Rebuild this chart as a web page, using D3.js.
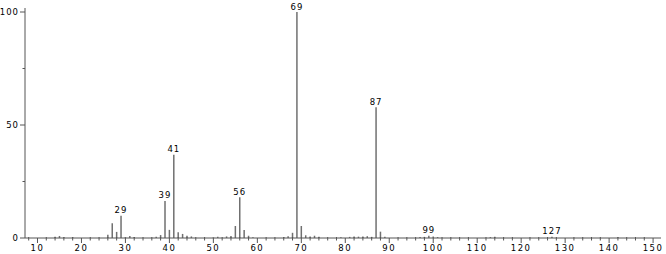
<!DOCTYPE html>
<html>
<head>
<meta charset="utf-8">
<script src="https://cdn.jsdelivr.net/npm/d3@7"></script>
<style>
  body { margin: 0; background: #fff; }
  text { font-family: "DejaVu Sans", sans-serif; font-size: 8.5px; fill: #000; }
</style>
</head>
<body>
<div id="chart"></div>
<script>
// m/z values and relative intensities
const mz = [14, 15, 16, 18, 26, 27, 28, 29, 30, 31, 32, 37, 38, 39, 40, 41, 42, 43, 44, 45,
            50, 51, 53, 54, 55, 56, 57, 58, 59, 66, 67, 68, 69, 70, 71, 72, 73, 74,
            79, 81, 82, 83, 84, 85, 86, 87, 88, 89, 97, 98, 99, 100, 101, 113, 114, 127, 142];
const intensity = [0.5, 0.9, 0.3, 0.3, 1.4, 6.5, 2.7, 9.8, 0.4, 0.9, 0.4, 0.6, 1.3, 16.4, 3.6, 36.8, 2.5, 1.8, 1.0, 0.7,
                   0.3, 0.5, 0.7, 0.9, 5.3, 18.0, 3.5, 1.0, 0.3, 0.4, 0.8, 2.3, 100, 5.3, 1.2, 0.7, 1.0, 0.6,
                   0.3, 0.5, 0.7, 0.6, 0.7, 0.8, 0.5, 57.8, 2.8, 0.6, 0.4, 0.5, 1.0, 0.7, 0.4, 0.4, 0.5, 0.5, 0.3];
const labelled = [29, 39, 41, 56, 69, 87, 99, 127];
const xMajor = [10, 20, 30, 40, 50, 60, 70, 80, 90, 100, 110, 120, 130, 140, 150];
const yMajor = [0, 50, 100];
const yMinor = [25, 75];

const width = 666, height = 254;
const x = d3.scaleLinear().domain([7.16, 151.8]).range([25, 661]);
const y = d3.scaleLinear().domain([0, 100]).range([238, 12]);

const svg = d3.select("#chart").append("svg")
  .attr("width", width).attr("height", height);

const axisColor = "#555";

// bars
svg.selectAll("line.bar")
  .data(mz.map((m, i) => ({ m, v: intensity[i] })))
  .enter().append("line")
  .attr("class", "bar")
  .attr("x1", d => x(d.m)).attr("x2", d => x(d.m))
  .attr("y1", y(0)).attr("y2", d => y(d.v))
  .attr("stroke", "#707070").attr("stroke-width", 1.5);

// peak labels
svg.selectAll("text.peak")
  .data(labelled)
  .enter().append("text")
  .attr("class", "peak")
  .attr("x", d => x(d))
  .attr("y", d => y(intensity[mz.indexOf(d)]) - 2.5)
  .attr("text-anchor", "middle")
  .style("letter-spacing", "1px")
  .text(d => d);

// x axis
const xAxis = svg.append("g").attr("transform", `translate(0,${y(0)})`);
xAxis.append("line")
  .attr("x1", x.range()[0]).attr("x2", x.range()[1])
  .attr("stroke", axisColor);
xAxis.selectAll("line.minor")
  .data(d3.range(8, 152, 2).filter(v => v % 10 !== 0))
  .enter().append("line")
  .attr("x1", d => x(d)).attr("x2", d => x(d))
  .attr("y1", -1).attr("y2", 2.5)
  .attr("stroke", axisColor);
xAxis.selectAll("line.major")
  .data(xMajor)
  .enter().append("line")
  .attr("x1", d => x(d)).attr("x2", d => x(d))
  .attr("y1", 0).attr("y2", 5)
  .attr("stroke", axisColor);
xAxis.selectAll("text")
  .data(xMajor)
  .enter().append("text")
  .attr("x", d => x(d)).attr("y", 13)
  .attr("text-anchor", "middle")
  .style("letter-spacing", "1.5px")
  .text(d => d);

// y axis
const yAxis = svg.append("g").attr("transform", `translate(${x.range()[0]},0)`);
yAxis.append("line")
  .attr("y1", y(0)).attr("y2", 8)
  .attr("stroke", axisColor);
yAxis.selectAll("line.major")
  .data(yMajor)
  .enter().append("line")
  .attr("x1", -5).attr("x2", 0)
  .attr("y1", d => y(d)).attr("y2", d => y(d))
  .attr("stroke", axisColor);
yAxis.selectAll("line.minor")
  .data(yMinor)
  .enter().append("line")
  .attr("x1", -2.5).attr("x2", 0)
  .attr("y1", d => y(d)).attr("y2", d => y(d))
  .attr("stroke", axisColor);
yAxis.selectAll("text")
  .data(yMajor)
  .enter().append("text")
  .attr("x", -6).attr("y", d => y(d) + 3)
  .attr("text-anchor", "end")
  .style("letter-spacing", "1px")
  .text(d => d);
</script>
</body>
</html>
